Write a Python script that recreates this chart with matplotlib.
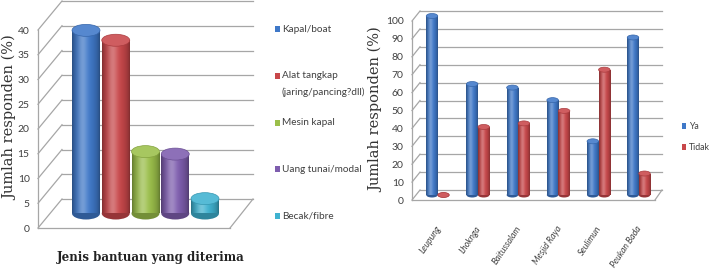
import numpy as np
import matplotlib
matplotlib.use('Agg')
import matplotlib.pyplot as plt
from matplotlib.patches import Ellipse, Rectangle
from matplotlib.colors import to_rgb

# ---------------- data ----------------
aid_labels = ["Kapal/boat", "Alat tangkap\n(jaring/pancing?dll)", "Mesin kapal",
              "Uang tunai/modal", "Becak/fibre"]
aid_values = [37, 35, 12.5, 12, 3]
aid_colors = ["#3F78C8", "#C8474A", "#9BBF4A", "#7E5DAE", "#3FB2D0"]
aid_ticks = [0, 5, 10, 15, 20, 25, 30, 35, 40]

locations = ["Leupung", "Lhoknga", "Baitussalam", "Mesjid Raya", "Seulimun", "Peukan Bada"]
ya_values = [100, 62, 60, 53, 30, 88]
tidak_values = [0, 38, 40, 47, 70, 12]
series_labels = ["Ya", "Tidak"]
series_colors = ["#3F78C8", "#C8474A"]
loc_ticks = [0, 10, 20, 30, 40, 50, 60, 70, 80, 90, 100]

ylabel = "Jumlah responden (%)"
xlabel_left = "Jenis bantuan yang diterima"

W, H = 710, 270
fig = plt.figure(figsize=(7.1, 2.7), dpi=100)
fig.patch.set_facecolor("white")

GRID = "#A6A6A6"
TICKFONT = "Lato"
SERIF = "DejaVu Serif"


def px_axes(x0, ytop, x1, ybot):
    return fig.add_axes([x0 / W, 1 - ybot / H, (x1 - x0) / W, (ybot - ytop) / H])


def shade(color, n=64):
    base = np.array(to_rgb(color))
    t = np.linspace(0, 1, n)
    dark = 0.62 + 0.38 * np.sin(np.pi * t) ** 0.6
    hl = 0.28 * np.exp(-((t - 0.38) / 0.18) ** 2)
    rgb = base[None, :] * dark[:, None]
    rgb = rgb + (1 - rgb) * hl[:, None]
    return np.clip(rgb[None, :, :], 0, 1)


def lighter(color, a):
    c = np.array(to_rgb(color))
    return tuple(c + (1 - c) * a)


def darker(color, a):
    c = np.array(to_rgb(color))
    return tuple(c * (1 - a))


def cylinders(ax, xs, vals, width, color, ell_h):
    bars = ax.bar(xs, vals, width, color="none", edgecolor="none", zorder=3)
    for b, v in zip(bars, vals):
        x0 = b.get_x()
        xc = x0 + width / 2
        ax.add_patch(Ellipse((xc, 0), width, ell_h, facecolor=darker(color, 0.25),
                             edgecolor="none", zorder=2, clip_on=False))
        if v > 0:
            im = ax.imshow(shade(color), extent=(x0, x0 + width, 0, v), aspect="auto",
                           interpolation="bicubic", zorder=3)
            im.set_clip_path(b)
        ax.add_patch(Ellipse((xc, v), width, ell_h, facecolor=lighter(color, 0.12),
                             edgecolor=darker(color, 0.15), linewidth=0.5, zorder=4,
                             clip_on=False))
    return bars


def frame(ax, ticks, xb0, xb1, xf1, dy, ymax, xmax):
    for v in ticks:
        ax.plot([0, xb0], [v, v + dy], color=GRID, lw=0.9, clip_on=False)
        ax.plot([xb0, xb1], [v + dy, v + dy], color=GRID, lw=0.9, clip_on=False)
    ax.plot([0, 0], [0, ticks[-1]], color=GRID, lw=0.9, clip_on=False)
    ax.plot([0, xf1], [0, 0], color=GRID, lw=0.9, clip_on=False)
    ax.plot([xf1, xb1], [0, dy], color=GRID, lw=0.9, clip_on=False)
    ax.set_xlim(0, xmax)
    ax.set_ylim(0, ymax)
    ax.set_yticks(ticks)
    ax.set_yticklabels([str(t) for t in ticks], fontfamily=TICKFONT, fontsize=7.5,
                       color="#404040")
    ax.tick_params(axis="y", length=0, pad=6)
    ax.set_xticks([])
    for s in ax.spines.values():
        s.set_visible(False)
    ax.patch.set_alpha(0)


# ================= left chart =================
sL = 4.95  # px per unit
axL = px_axes(38, 0, 262, 228)
frame(axL, aid_ticks, 24, 215, 192, 29 / sL, 228 / sL, 224)
axL.set_ylabel(ylabel, fontfamily=SERIF, fontsize=10.5, color="#333333")
axL.yaxis.set_label_coords(-21 / 224, (228 - 118) / 228)

xs = np.arange(len(aid_values))
spacing = 29.75
base_y = 213.5
x_left = 86 - 0.6 * spacing
axLb = px_axes(x_left, base_y - 40 * sL, x_left + 5.2 * spacing, base_y)
for i, (v, c) in enumerate(zip(aid_values, aid_colors)):
    cylinders(axLb, [xs[i]], [v], 0.94, c, 12 / sL)
axLb.set_xlim(-0.6, 4.6)
axLb.set_ylim(0, 40)
axLb.axis("off")

fig.text(151 / W, 1 - 258 / H, xlabel_left, ha="center", va="center",
         fontfamily=SERIF, fontsize=8.5, fontweight="bold", color="#222222")

# manual legend (left)
leg_y = [29, 76, 123, 169, 216]
for lab, c, y in zip(aid_labels, aid_colors, leg_y):
    fig.add_artist(Rectangle((274.5 / W, 1 - (y + 3) / H), 5 / W, 6 / H,
                             transform=fig.transFigure, facecolor=c, edgecolor="none"))
    if "\n" in lab:
        fig.text(282 / W, 1 - (y - 5.5) / H, lab, ha="left", va="top",
                 fontfamily=TICKFONT, fontsize=7.2, color="#404040", linespacing=2.0)
    else:
        fig.text(282 / W, 1 - y / H, lab, ha="left", va="center",
                 fontfamily=TICKFONT, fontsize=7.2, color="#404040")

# ================= right chart =================
sR = 1.79
axR = px_axes(412, 0, 670, 200)
frame(axR, loc_ticks, 8, 250, 243, 10 / sR, 200 / sR, 258)
axR.set_ylabel(ylabel, fontfamily=SERIF, fontsize=10.5, color="#333333")
axR.yaxis.set_label_coords(-29 / 258, (200 - 110) / 200)

gx = np.arange(len(locations))
gsp = 40.2
bw = 0.286
base_r = 195
xr0 = 437.75 - 0.5 * gsp
axRb = px_axes(xr0, base_r - 100 * sR, xr0 + 6 * gsp, base_r)
b1 = cylinders(axRb, gx - bw / 2, ya_values, bw, series_colors[0], 5 / sR)
b2 = cylinders(axRb, gx + bw / 2, tidak_values, bw, series_colors[1], 5 / sR)
axRb.set_xlim(-0.5, 5.5)
axRb.set_ylim(0, 100)
axRb.set_xticks(gx - 0.06)
axRb.set_xticklabels(locations, rotation=56, ha="right", rotation_mode="anchor",
                     fontfamily=TICKFONT, fontsize=6.3, fontstyle="italic", color="#404040")
axRb.tick_params(axis="x", length=0, pad=21)
axRb.set_yticks([])
for s in axRb.spines.values():
    s.set_visible(False)
axRb.patch.set_alpha(0)

h1 = Rectangle((0, 0), 1, 1, facecolor=series_colors[0])
h2 = Rectangle((0, 0), 1, 1, facecolor=series_colors[1])
fig.legend([h1, h2], series_labels, loc="center left",
           bbox_to_anchor=(682 / W, 1 - 137 / H), frameon=False, borderpad=0,
           borderaxespad=0, prop={"family": TICKFONT, "size": 6.3}, handlelength=0.5,
           handleheight=0.7, handletextpad=0.3, labelspacing=1.4, labelcolor="#404040")

fig.savefig("out.png", dpi=100, facecolor="white")
